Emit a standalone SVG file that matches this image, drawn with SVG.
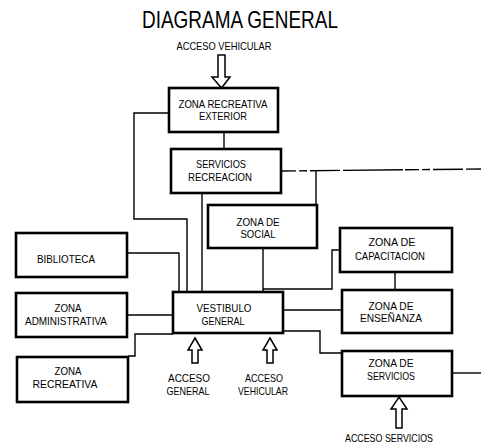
<svg xmlns="http://www.w3.org/2000/svg" width="481" height="447" viewBox="0 0 481 447">
<style>
  .box { fill: #fff; stroke: #000; stroke-width: 2.6; }
  .t { font-family: "Liberation Sans", Arial, sans-serif; font-size: 11px; fill: #000; text-anchor: middle; }
  .title { font-family: "Liberation Sans", Arial, sans-serif; font-size: 24px; fill: #000; text-anchor: middle; }
  .c { fill: none; stroke: #000; stroke-width: 1.4; }
  .arr { fill: #fff; stroke: #000; stroke-width: 1.5; stroke-linejoin: miter; }
</style>
<rect width="481" height="447" fill="#fff"/>

<text class="title" x="240" y="28" textLength="196" lengthAdjust="spacingAndGlyphs">DIAGRAMA GENERAL</text>

<g id="connectors">
  <!-- ZRE to SR -->
  <path class="c" d="M224 132 V149"/>
  <!-- ZRE left to Vestibulo -->
  <path class="c" d="M169 113 H134 V219 H187 V292"/>
  <!-- SR to Vestibulo -->
  <path class="c" d="M202 193 V292"/>
  <!-- SR right line -->
  <path class="c" d="M282 171 L481 169" stroke-dasharray="14 3 8 3 30 3 60 2"/>
  <path class="c" d="M316 170 V205"/>
  <!-- Biblioteca -->
  <path class="c" d="M127 253 H179 V292"/>
  <!-- Social to Vestibulo -->
  <path class="c" d="M263 248 V292"/>
  <!-- Capacitacion -->
  <path class="c" d="M340 250 H332 V289 H263"/>
  <!-- Capacitacion to Ensenanza -->
  <path class="c" d="M395 272 V290"/>
  <!-- Administrativa -->
  <path class="c" d="M127 315 H173"/>
  <!-- Recreativa -->
  <path class="c" d="M128 356 H135 V334 H173"/>
  <!-- Vestibulo to Ensenanza -->
  <path class="c" d="M283 310 H342"/>
  <!-- Vestibulo to Servicios -->
  <path class="c" d="M283 331 H320 V353 H342"/>
  <!-- Servicios right -->
  <path class="c" d="M452 373 H481"/>
</g>

<g id="acceso-vehicular-top">
  <text class="t" x="224" y="50" textLength="95" lengthAdjust="spacingAndGlyphs">ACCESO VEHICULAR</text>
  <polygon class="arr" points="218,55 225,55 225,77 230,77 221.5,88 212,77 218,77"/>
</g>

<g id="zona-recreativa-exterior">
  <rect class="box" x="169" y="88" width="109" height="44"/>
  <text class="t" x="223" y="108" textLength="89" lengthAdjust="spacingAndGlyphs">ZONA RECREATIVA</text>
  <text class="t" x="223" y="120" textLength="48" lengthAdjust="spacingAndGlyphs">EXTERIOR</text>
</g>

<g id="servicios-recreacion">
  <rect class="box" x="171" y="149" width="110" height="44"/>
  <text class="t" x="221" y="168" textLength="50" lengthAdjust="spacingAndGlyphs">SERVICIOS</text>
  <text class="t" x="220" y="181" textLength="64" lengthAdjust="spacingAndGlyphs">RECREACION</text>
</g>

<g id="zona-de-social">
  <rect class="box" x="208" y="205" width="109" height="43"/>
  <text class="t" x="258" y="226" textLength="43" lengthAdjust="spacingAndGlyphs">ZONA DE</text>
  <text class="t" x="258" y="238" textLength="35" lengthAdjust="spacingAndGlyphs">SOCIAL</text>
</g>

<g id="biblioteca">
  <rect class="box" x="16" y="233" width="111" height="44"/>
  <text class="t" x="66" y="263" textLength="58" lengthAdjust="spacingAndGlyphs">BIBLIOTECA</text>
</g>

<g id="zona-de-capacitacion">
  <rect class="box" x="340" y="228" width="112" height="44"/>
  <text class="t" x="392" y="246" textLength="47" lengthAdjust="spacingAndGlyphs">ZONA DE</text>
  <text class="t" x="390" y="260" textLength="70" lengthAdjust="spacingAndGlyphs">CAPACITACION</text>
</g>

<g id="zona-administrativa">
  <rect class="box" x="16" y="293" width="111" height="44"/>
  <text class="t" x="68" y="312" textLength="27" lengthAdjust="spacingAndGlyphs">ZONA</text>
  <text class="t" x="66" y="325" textLength="82" lengthAdjust="spacingAndGlyphs">ADMINISTRATIVA</text>
</g>

<g id="vestibulo-general">
  <rect class="box" x="173" y="292" width="110" height="41"/>
  <text class="t" x="224" y="312" textLength="55" lengthAdjust="spacingAndGlyphs">VESTIBULO</text>
  <text class="t" x="223" y="325" textLength="43" lengthAdjust="spacingAndGlyphs">GENERAL</text>
</g>

<g id="zona-de-ensenanza">
  <rect class="box" x="342" y="290" width="110" height="43"/>
  <text class="t" x="391" y="310" textLength="45" lengthAdjust="spacingAndGlyphs">ZONA DE</text>
  <text class="t" x="391" y="322" textLength="62" lengthAdjust="spacingAndGlyphs">ENSEÑANZA</text>
</g>

<g id="zona-recreativa">
  <rect class="box" x="17" y="357" width="111" height="45"/>
  <text class="t" x="68" y="375" textLength="27" lengthAdjust="spacingAndGlyphs">ZONA</text>
  <text class="t" x="65" y="388" textLength="65" lengthAdjust="spacingAndGlyphs">RECREATIVA</text>
</g>

<g id="zona-de-servicios">
  <rect class="box" x="342" y="351" width="110" height="45"/>
  <text class="t" x="391" y="367" textLength="45" lengthAdjust="spacingAndGlyphs">ZONA DE</text>
  <text class="t" x="391" y="380" textLength="48" lengthAdjust="spacingAndGlyphs">SERVICIOS</text>
</g>

<g id="acceso-general">
  <polygon class="arr" points="195,338 202,350 198,350 198,363 192,363 192,350 188,350"/>
  <text class="t" x="189" y="382" textLength="42" lengthAdjust="spacingAndGlyphs">ACCESO</text>
  <text class="t" x="188" y="395" textLength="43" lengthAdjust="spacingAndGlyphs">GENERAL</text>
</g>

<g id="acceso-vehicular">
  <polygon class="arr" points="270,338 277,350 273,350 273,363 267,363 267,350 263,350"/>
  <text class="t" x="264" y="382" textLength="38" lengthAdjust="spacingAndGlyphs">ACCESO</text>
  <text class="t" x="263" y="395" textLength="50" lengthAdjust="spacingAndGlyphs">VEHICULAR</text>
</g>

<g id="acceso-servicios">
  <polygon class="arr" points="399,397 407,409 402,409 402,428 396,428 396,409 391,409"/>
  <text class="t" x="389" y="442" textLength="88" lengthAdjust="spacingAndGlyphs">ACCESO SERVICIOS</text>
</g>
</svg>
